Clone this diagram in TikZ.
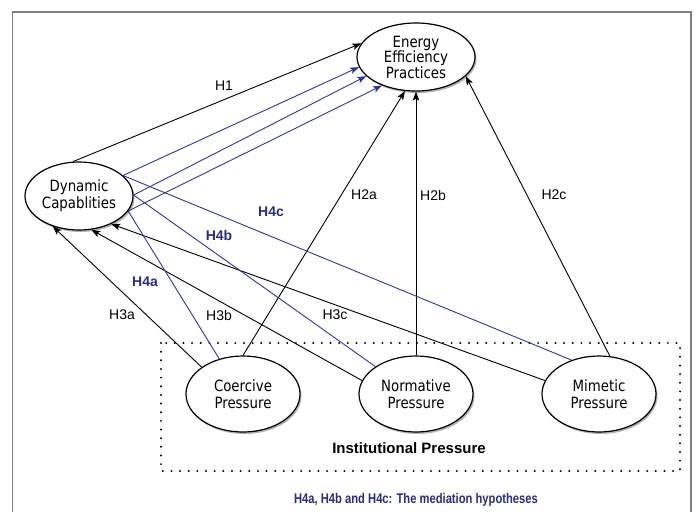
\documentclass[tikz,border=0pt]{standalone}
\usepackage{fontspec}
\setmainfont{Liberation Sans}
\newfontfamily\ellfont[FakeStretch=0.86]{DejaVu Sans}
\newfontfamily\narrowfont[FakeStretch=0.8]{Liberation Sans}
\usetikzlibrary{arrows.meta,shapes.geometric,shadows}
\definecolor{medblue}{RGB}{45,55,155}
\definecolor{hypblue}{RGB}{40,45,130}

\begin{document}
\begin{tikzpicture}[x=1pt,y=-1pt]

    \tikzset{
      construct/.style={
        draw,
        ellipse,
        line width=1.2pt,
        fill=white,
        inner sep=0pt,
        minimum width=114pt,
        minimum height=76pt,
        align=center,
        font=\ellfont\fontsize{15.5}{17}\selectfont,
        drop shadow={shadow xshift=1.5pt, shadow yshift=-2pt, fill=black!50, opacity=0.6},
      },
      direct/.style={draw=black, line width=0.9pt, -{Stealth[length=9pt,width=6.5pt,inset=2pt]}},
      mediate/.style={draw=medblue, line width=0.9pt},
      hlabel/.style={font=\fontsize{14}{16}\selectfont},
      hmlabel/.style={font=\bfseries\fontsize{14}{16}\selectfont, text=hypblue},
    }
    \useasboundingbox (0,0) rectangle (698,512);
	\draw[color={gray}, line width=1.6pt] (12.5,512)--(12.5,12)--(691,12)--(691,512);
	\draw[line width=2.2pt, line cap=round, dash pattern=on 0pt off 8.65pt] (161,343) rectangle (680,471);

	\node[construct, minimum width=118pt, minimum height=68pt, font=\ellfont\fontsize{15.5}{15.5}\selectfont] (eep) at (416,57) {Energy\\Efficiency\\Practices};
	\node[construct, minimum width=108pt, minimum height=68pt] (dc) at (79,196) {Dynamic\\Capablities};
	\node[construct] (cp) at (243,394) {Coercive\\Pressure};
	\node[construct] (np) at (416,394) {Normative\\Pressure};
	\node[construct] (mp) at (599,394) {Mimetic\\Pressure};

	\draw[direct] (dc.100)--(eep.166);
	\draw[direct] (cp.90)--(eep.252);
	\draw[direct] (np.90)--(eep.270);
	\draw[direct] (mp.74)--(eep.339);
	\draw[direct] (cp.147)--(dc.229);
	\draw[direct] (np.166)--(dc.290);
	\draw[direct] (mp.166)--(dc.319);

	\draw[mediate] (cp.124)--(dc.-17);
	\draw[mediate] (np.146)--(dc.1);
	\draw[mediate] (mp.129)--(dc.25);
	\draw[mediate, -{Stealth[length=9pt,width=6.5pt,inset=2pt]}] (dc.25)--(eep.190);
	\draw[mediate, -{Stealth[length=9pt,width=6.5pt,inset=2pt]}] (dc.1)--(eep.201);
	\draw[mediate, -{Stealth[length=9pt,width=6.5pt,inset=2pt]}] (dc.-17)--(eep.220);

	\node[hlabel] (h1) at (224,86) {H1};
	\node[hlabel] (h2a) at (364,195) {H2a};
	\node[hlabel] (h2b) at (433,195) {H2b};
	\node[hlabel] (h2c) at (554,195) {H2c};
	\node[hlabel] (h3a) at (122,315) {H3a};
	\node[hlabel] (h3b) at (219,315) {H3b};
	\node[hlabel] (h3c) at (335,315) {H3c};
	\node[hmlabel] (h4a) at (145,282) {H4a};
	\node[hmlabel] (h4b) at (219,235) {H4b};
	\node[hmlabel] (h4c) at (271,212) {H4c};
	\node[font=\bfseries\fontsize{15}{17}\selectfont] (inst) at (409,448) {Institutional Pressure};
	\node[font=\narrowfont\bfseries\fontsize{14}{16}\selectfont, text=hypblue] (note) at (416,500) {H4a, H4b and H4c: The mediation hypotheses};

\end{tikzpicture}
\end{document}
